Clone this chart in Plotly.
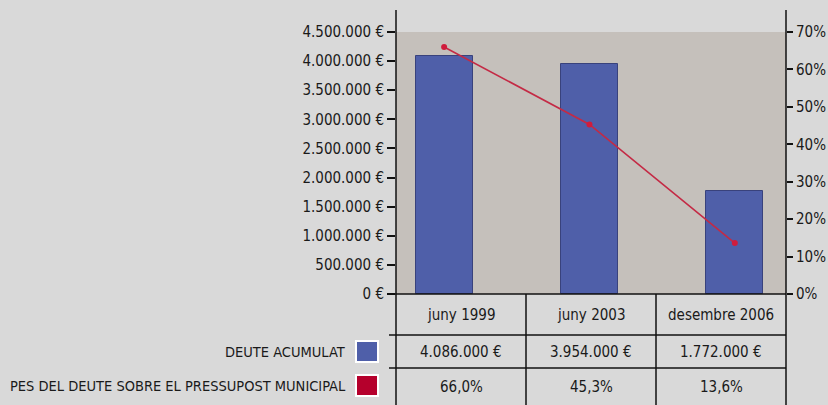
import plotly.graph_objects as go

categories = ["juny 1999", "juny 2003", "desembre 2006"]
deute = [4086000, 3954000, 1772000]
pes = [66.0, 45.3, 13.6]
series_names = ["DEUTE ACUMULAT", "PES DEL DEUTE SOBRE EL PRESSUPOST MUNICIPAL"]
left_ticks = [0, 500000, 1000000, 1500000, 2000000, 2500000, 3000000, 3500000, 4000000, 4500000]
right_ticks = [0, 10, 20, 30, 40, 50, 60, 70]

W, H = 828, 405
L, R, T, B = 396, 42, 32, 111
PW, PH = W - L - R, H - T - B

def px_x(x):
    return (x - L) / PW

def px_y(y):
    return (H - B - y) / PH

FONT = "DejaVu Sans Condensed, Liberation Sans Narrow, Arial Narrow, sans-serif"
TXT = "#1a1a1a"
BLUE = "#4f5fa9"
RED = "#c42a45"
RED_SW = "#b5002c"
FS = 15

def fmt_eur(v):
    return f"{v:,}".replace(",", ".") + " €"

def fmt_pct(p):
    return f"{p:.1f}".replace(".", ",") + "%"

xs = list(range(len(categories)))

fig = go.Figure()
fig.add_trace(go.Bar(x=xs, y=deute, width=0.393, marker=dict(color=BLUE, line=dict(color="#39427c", width=1)),
                     name=series_names[0], showlegend=False, hoverinfo="skip"))
fig.add_trace(go.Scatter(x=xs, y=pes, yaxis="y2", mode="lines+markers",
                         line=dict(color=RED, width=1.6), marker=dict(color="#d01c3c", size=6),
                         name=series_names[1], showlegend=False, hoverinfo="skip"))

shapes = []
line_col = "#111111"
for xp in (0, 1):
    shapes.append(dict(type="line", xref="paper", yref="paper", x0=xp, x1=xp,
                       y0=px_y(10), y1=px_y(405), line=dict(color=line_col, width=1.5)))
for yp in (294, 335, 368):
    shapes.append(dict(type="line", xref="paper", yref="paper", x0=px_x(389), x1=1,
                       y0=px_y(yp), y1=px_y(yp), line=dict(color=line_col, width=1.5)))
for i in (1, 2):
    shapes.append(dict(type="line", xref="paper", yref="paper", x0=i / 3, x1=i / 3,
                       y0=px_y(294), y1=px_y(405), line=dict(color=line_col, width=1.5)))
for (y0, y1), col in zip([(341, 362), (375, 396)], [BLUE, RED_SW]):
    shapes.append(dict(type="rect", xref="paper", yref="paper", x0=px_x(356), x1=px_x(378),
                       y0=px_y(y1), y1=px_y(y0), fillcolor=col, line=dict(color="white", width=2)))

annotations = []
row_y = [314.5, 351.5, 386.5]
for i, c in enumerate(categories):
    xc = (i + 0.5) / 3
    for j, t in enumerate([c, fmt_eur(deute[i]), fmt_pct(pes[i])]):
        annotations.append(dict(x=xc, y=px_y(row_y[j]), xref="paper", yref="paper", text=t,
                                showarrow=False, xanchor="center", yanchor="middle",
                                font=dict(family=FONT, size=FS, color=TXT)))
for name, yc in zip(series_names, [352, 386]):
    annotations.append(dict(x=px_x(348), y=px_y(yc), xref="paper", yref="paper", text=name,
                            showarrow=False, xanchor="right", yanchor="middle",
                            font=dict(family=FONT, size=14.5, color=TXT)))

fig.update_layout(
    width=W, height=H,
    margin=dict(l=L, r=R, t=T, b=B, pad=0, autoexpand=False),
    paper_bgcolor="#d9d9d9",
    plot_bgcolor="#c5c0bb",
    showlegend=False,
    bargap=0,
    xaxis=dict(range=[-0.331, 2.352], showticklabels=False, showgrid=False, zeroline=False,
               showline=False, ticks="", fixedrange=True, automargin=False),
    yaxis=dict(range=[0, 4500000], tickmode="array", tickvals=left_ticks,
               ticktext=[fmt_eur(v) for v in left_ticks], automargin=False,
               ticks="outside", ticklen=8, tickwidth=1.5, tickcolor=line_col,
               showgrid=False, zeroline=False, showline=False,
               tickfont=dict(family=FONT, size=FS, color=TXT)),
    yaxis2=dict(range=[0, 70], tickmode="array", tickvals=right_ticks, automargin=False,
                ticktext=[f"{v}%" for v in right_ticks], overlaying="y", side="right",
                ticks="outside", ticklen=6, tickwidth=1.5, tickcolor=line_col,
                showgrid=False, zeroline=False, showline=False,
                tickfont=dict(family=FONT, size=FS, color=TXT)),
    shapes=shapes,
    annotations=annotations,
)

fig.write_html("out.html", config={"displayModeBar": False},
               post_script="document.body.style.margin='0';")
